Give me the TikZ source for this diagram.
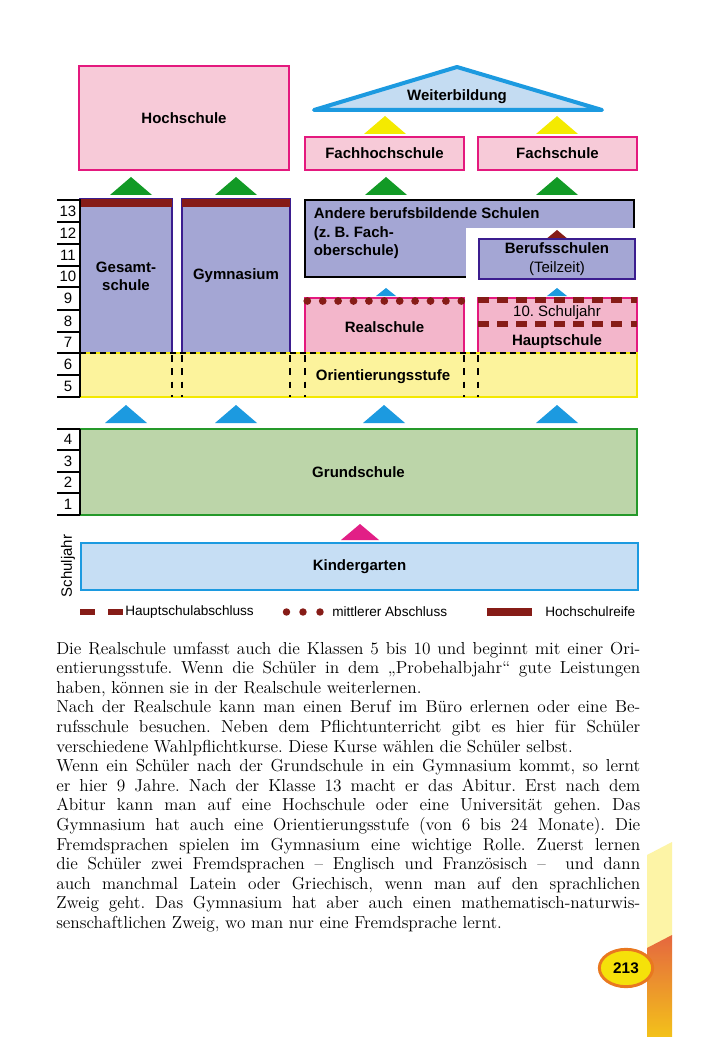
\documentclass[tikz,border=0pt]{standalone}
\usepackage{fontspec}
\newfontfamily\lab{Liberation Sans}
\usetikzlibrary{shapes.geometric}
\definecolor{pinkfill}{HTML}{F7CAD8}
\definecolor{magline}{HTML}{E4197E}
\definecolor{realpink}{HTML}{F3B6CB}
\definecolor{lav}{HTML}{A4A6D4}
\definecolor{dpurple}{HTML}{3B1D8F}
\definecolor{maroon}{HTML}{861C17}
\definecolor{bandfill}{HTML}{FCF39C}
\definecolor{bandline}{HTML}{F3E800}
\definecolor{greentri}{HTML}{129A26}
\definecolor{grundfill}{HTML}{BCD5A9}
\definecolor{grundline}{HTML}{25992A}
\definecolor{bluetri}{HTML}{1C9AE0}
\definecolor{kinderfill}{HTML}{C6DEF4}
\definecolor{magtri}{HTML}{E21F86}
\definecolor{yellowtri}{HTML}{F4EA00}
\definecolor{weiterfill}{HTML}{C4DCF2}
\definecolor{ellfill}{HTML}{F5E10A}
\definecolor{ellline}{HTML}{E9781F}
\definecolor{strippale}{HTML}{FDF4A6}
\definecolor{striptop}{HTML}{E5673F}
\definecolor{stripbot}{HTML}{F3C21A}
\newcommand\mytri[5]{\fill[#1] (#2,#3) -- ({#2+#5},#4) -- ({#2-#5},#4) -- cycle;}
\frenchspacing
\begin{document}
\begin{tikzpicture}[x=0.75pt,y=-0.75pt,
  sz/.style 2 args={minimum width=#1*0.75pt, minimum height=#2*0.75pt},
  box/.style={draw, inner sep=0pt, line width=0.9pt, font=\lab\bfseries\fontsize{11.25}{13.5}\selectfont, align=center},
  lbl/.style={inner sep=0pt, font=\lab\bfseries\fontsize{11.25}{13.5}\selectfont, align=center},
  reg/.style={inner sep=0pt, font=\lab\fontsize{11.25}{13.5}\selectfont},
  leg/.style={inner sep=0pt, anchor=west, font=\lab\fontsize{10.2}{12}\selectfont},
  para/.style={inner sep=0pt, anchor=base west, font=\fontsize{13}{15}\selectfont},
  scl/.style={black, line width=0.9pt}
]
\useasboundingbox (0,0) rectangle (700,1037);
\fill[white] (0,0) rectangle (700,1037);

% ---------- top level ----------
\node[box, sz={210}{104}, draw=magline, fill=pinkfill] (hoch) at (184,118) {Hochschule};
\draw[line width=3pt, draw=bluetri, fill=weiterfill, line join=round] (314,110) -- (457,67) -- (602,110) -- cycle;
\node[lbl] (weiter) at (457,97) {Weiterbildung};
\mytri{yellowtri}{385}{116}{134}{21}
\mytri{yellowtri}{557}{116}{134}{21}
\node[box, sz={159}{33}, draw=magline, fill=pinkfill] (fhs) at (384.5,153.5) {Fachhochschule};
\node[box, sz={159}{33}, draw=magline, fill=pinkfill] (fs) at (557.5,153.5) {Fachschule};
\mytri{greentri}{131}{177}{195}{21}
\mytri{greentri}{236}{177}{195}{21}
\mytri{greentri}{386}{177}{195}{21}
\mytri{greentri}{557}{177}{195}{21}

% ---------- secondary ----------
\node[box, sz={92}{154}, draw=dpurple, fill=lav] (ges) at (126,276) {Gesamt-\\schule};
\node[box, sz={108}{154}, draw=dpurple, fill=lav] (gym) at (236,276) {Gymnasium};
\fill[maroon] (80,199) rectangle (172,207);
\fill[maroon] (182,199) rectangle (290,207);

\node[box, sz={329}{77}, draw=black, line width=1.5pt, fill=lav] (andere) at (469.5,238.5) {};
\fill[white] (465.5,228.5) rectangle (640,285);
\node[lbl, anchor=north west, align=left, font=\lab\bfseries\fontsize{11.25}{13.9}\selectfont] (anderetxt) at (313.5,207.5) {Andere berufsbildende Schulen\\(z. B. Fach-\\oberschule)};
\mytri{maroon}{557}{230}{240}{12}
\node[box, sz={156}{40}, draw=dpurple, line width=1.2pt, fill=lav, font=\lab\fontsize{11.25}{14.3}\selectfont] (beruf) at (557,259) {{\bfseries Berufsschulen}\\(Teilzeit)};
\mytri{bluetri}{386}{288}{296}{10}
\mytri{bluetri}{557}{288}{296}{10}

\node[box, sz={159}{55}, draw=magline, fill=realpink] (real) at (384.5,325.5) {};
\foreach \i in {0,...,10} \fill[maroon] ({307.3+15.4*\i},301) circle[radius=2.9pt];
\node[lbl] (realtxt) at (384.5,327) {Realschule};

\node[box, sz={159}{55}, draw=magline, fill=realpink] (haupt) at (557.5,325.5) {};
\draw[maroon, line width=4.5pt, dash pattern=on 7.9pt off 6.4pt] (478,300) -- (637,300);
\draw[maroon, line width=4.5pt, dash pattern=on 7.9pt off 6.4pt] (478,324) -- (637,324);
\node[reg] (zehn) at (557,313) {10. Schuljahr};
\node[lbl] (hauptxt) at (557,342) {Hauptschule};

% Orientierungsstufe band
\node[draw=bandline, fill=bandfill, line width=1.2pt, inner sep=0pt, sz={557}{44}] (orient) at (358.5,375) {};
\draw[black, line width=1.1pt, dash pattern=on 4.5pt off 3pt] (80,353) -- (637,353);
\foreach \xx in {172,182,290,305,464,478}
  \draw[black, line width=1.1pt, dash pattern=on 5pt off 5pt] (\xx,355) -- (\xx,397);
\node[lbl] (orienttxt) at (383,377) {Orientierungsstufe};

% scale upper
\foreach \yy in {200,222,244,266,287,310,332,353,375,397}
  \draw[scl] (57,\yy) -- (80,\yy);
\draw[black, line width=1.5pt] (80,199) -- (80,397);
\foreach \n/\yy in {13/211,12/233,11/255,10/276.5,9/298.5,8/321,7/342.5,6/364,5/386}
  \node[reg] (s\n) at (68,\yy) {\n};

% ---------- primary ----------
\mytri{bluetri}{126}{405}{423}{21}
\mytri{bluetri}{236}{405}{423}{21}
\mytri{bluetri}{384}{405}{423}{21}
\mytri{bluetri}{557}{405}{423}{21}
\node[box, sz={557}{86}, draw=grundline, line width=1.3pt, fill=grundfill] (grund) at (358.5,472) {Grundschule};
\foreach \yy in {429,450,472,493,515}
  \draw[scl] (57,\yy) -- (80,\yy);
\draw[black, line width=1.5pt] (80,429) -- (80,515);
\foreach \n/\yy in {4/439.5,3/461,2/482.5,1/504}
  \node[reg] (s\n) at (68,\yy) {\n};

\mytri{magtri}{360}{524}{540}{19}
\node[box, sz={557}{47}, draw=bluetri, line width=1.5pt, fill=kinderfill] (kinder) at (359.5,566.5) {Kindergarten};
\node[reg, rotate=90] (schuljahr) at (68,566) {Schuljahr};

% ---------- legend ----------
\fill[maroon] (80,609) rectangle (95,615);
\fill[maroon] (108,609) rectangle (123,615);
\node[leg] (l1) at (125,612) {Hauptschulabschluss};
\foreach \xx in {286.5,303,320} \fill[maroon] (\xx,612) circle[radius=2.8pt];
\node[leg] (l2) at (332,612) {mittlerer Abschluss};
\fill[maroon] (487,608) rectangle (532,616);
\node[leg] (l3) at (545,612) {Hochschulreife};

% ---------- paragraph ----------
\node[para] (p1) at (56,654) {\makebox[438pt][s]{Die Realschule umfasst auch die Klassen 5 bis 10 und beginnt mit einer Ori-}};
\node[para] (p2) at (56,673.6) {\makebox[438pt][s]{entierungsstufe. Wenn die Schüler in dem „Probehalbjahr“ gute Leistungen}};
\node[para] (p3) at (56,693.2) {haben, können sie in der Realschule weiterlernen.};
\node[para] (p4) at (56,712.8) {\makebox[438pt][s]{Nach der Realschule kann man einen Beruf im Büro erlernen oder eine Be-}};
\node[para] (p5) at (56,732.4) {\makebox[438pt][s]{rufsschule besuchen. Neben dem Pflichtunterricht gibt es hier für Schüler}};
\node[para] (p6) at (56,752) {verschiedene Wahlpflichtkurse. Diese Kurse wählen die Schüler selbst.};
\node[para] (p7) at (56,771.6) {\makebox[438pt][s]{Wenn ein Schüler nach der Grundschule in ein Gymnasium kommt, so lernt}};
\node[para] (p8) at (56,791.2) {\makebox[438pt][s]{er hier 9 Jahre. Nach der Klasse 13 macht er das Abitur. Erst nach dem}};
\node[para] (p9) at (56,810.8) {\makebox[438pt][s]{Abitur kann man auf eine Hochschule oder eine Universität gehen. Das}};
\node[para] (p10) at (56,830.4) {\makebox[438pt][s]{Gymnasium hat auch eine Orientierungsstufe (von 6 bis 24 Monate). Die}};
\node[para] (p11) at (56,850) {\makebox[438pt][s]{Fremdsprachen spielen im Gymnasium eine wichtige Rolle. Zuerst lernen}};
\node[para] (p12) at (56,869.6) {\makebox[438pt][s]{die Schüler zwei Fremdsprachen – Englisch und Französisch – \ und dann}};
\node[para] (p13) at (56,889.2) {\makebox[438pt][s]{auch manchmal Latein oder Griechisch, wenn man auf den sprachlichen}};
\node[para] (p14) at (56,908.8) {\makebox[438pt][s]{Zweig geht. Das Gymnasium hat aber auch einen mathematisch-naturwis-}};
\node[para] (p15) at (56,928.4) {senschaftlichen Zweig, wo man nur eine Fremdsprache lernt.};

% ---------- page decoration ----------
\fill[strippale] (647,855) -- (672,842) -- (672,936) -- (647,949) -- cycle;
\shade[top color=striptop, bottom color=stripbot] (647,948) -- (672,935) -- (672,1037) -- (647,1037) -- cycle;
\node[ellipse, draw=ellline, line width=2.2pt, fill=ellfill, minimum width=40pt, minimum height=28pt, inner sep=0pt, font=\lab\bfseries\fontsize{11.5}{12}\selectfont] (pn) at (626,968) {213};
\end{tikzpicture}
\end{document}
